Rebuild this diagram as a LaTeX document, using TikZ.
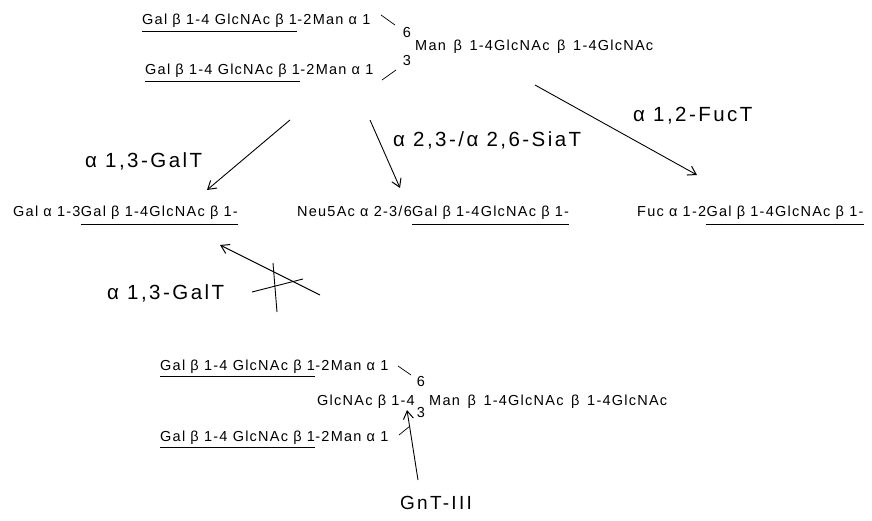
\documentclass[tikz,border=0pt]{standalone}
\usepackage{fontspec}
\setmainfont{Liberation Sans}
\newfontfamily\sugfont[LetterSpace=8.5]{Liberation Sans}
\newfontfamily\enzfont[LetterSpace=12]{Liberation Sans}
\usetikzlibrary{arrows.meta}
\begin{document}
\begin{tikzpicture}[x=1pt,y=-1pt,
  sug/.style={font=\sugfont\fontsize{14.5}{16}\selectfont, inner sep=0pt, anchor=base west},
  sugr/.style={font=\sugfont\fontsize{14.5}{16}\selectfont, inner sep=0pt, anchor=base east},
  num/.style={font=\sugfont\fontsize{14.5}{16}\selectfont, inner sep=0pt},
  enz/.style={font=\enzfont\fontsize{20.5}{22}\selectfont, inner sep=0pt, anchor=base west},
  ul/.style={line width=0.9pt},
  bond/.style={line width=0.7pt},
  arr/.style={line width=0.9pt, -{Straight Barb[length=8pt,width=10pt,line width=1pt]}},
  crossln/.style={line width=0.9pt}]
\useasboundingbox[fill=white] (0,0) rectangle (872,521);

% ---------- top structure ----------
\node[sug] (T1a) at (142,25) {Gal β 1-4 GlcNAc β 1};
\node[sug] (T1b) at (T1a.base east) {-2Man α 1};
\draw[ul] ([yshift=-6pt]T1a.base west) -- ([yshift=-6pt]T1a.base east);
\node[num] (t6) at (407,33) {6};
\node[sug] (TM) at (415,51) {Man~\,β~\,1-4GlcNAc~\,β~\,1-4GlcNAc};
\node[num] (t3) at (407,61) {3};
\node[sug] (T2a) at (145,75) {Gal β 1-4 GlcNAc β 1};
\node[sug] (T2b) at (T2a.base east) {-2Man α 1};
\draw[ul] ([yshift=-6pt]T2a.base west) -- ([yshift=-6pt]T2a.base east);
\coordinate (tb1) at (381,15); \coordinate (tb2) at (395,25);
\draw[bond] (tb1) -- (tb2);
\coordinate (tb3) at (382,80); \coordinate (tb4) at (396,70);
\draw[bond] (tb3) -- (tb4);

% ---------- products row ----------
\node[sug] (R1a) at (13,217) {Gal α 1-3};
\node[sug] (R1b) at (R1a.base east) {Gal β 1-4GlcNAc β 1-};
\draw[ul] ([yshift=-7pt]R1b.base west) -- ([yshift=-7pt]R1b.base east);
\node[sug] (R2a) at (297,217) {Neu5Ac α 2-3/6};
\node[sug] (R2b) at (R2a.base east) {Gal β 1-4GlcNAc β 1-};
\draw[ul] ([yshift=-7pt]R2b.base west) -- ([yshift=-7pt]R2b.base east);
\node[sug] (R3a) at (637,217) {Fuc α 1-2};
\node[sug] (R3b) at (R3a.base east) {Gal β 1-4GlcNAc β 1-};
\draw[ul] ([yshift=-7pt]R3b.base west) -- ([yshift=-7pt]R3b.base east);

% ---------- enzyme arrows ----------
\coordinate (a1s) at (290,120); \coordinate (a1e) at (207,190);
\draw[arr] (a1s) -- (a1e);
\node[enz] (L1) at (85,168) {α 1,3-GalT};
\coordinate (a2s) at (370,120); \coordinate (a2e) at (400,188);
\draw[arr] (a2s) -- (a2e);
\node[enz] (L2) at (393,147) {α 2,3-/α 2,6-SiaT};
\coordinate (a3s) at (535,85); \coordinate (a3e) at (697,175);
\draw[arr] (a3s) -- (a3e);
\node[enz] (L3) at (633,122) {α 1,2-FucT};
\coordinate (a4s) at (320,295); \coordinate (a4e) at (220,245);
\draw[arr] (a4s) -- (a4e);
\node[enz] (L4) at (107,299) {α 1,3-GalT};
\coordinate (c1) at (273,263); \coordinate (c2) at (277,312);
\coordinate (c3) at (252,292); \coordinate (c4) at (303,279);
\draw[crossln] (c1) -- (c2);
\draw[crossln] (c3) -- (c4);

% ---------- bottom structure ----------
\node[sug] (B1a) at (160,370) {Gal β 1-4 GlcNAc β 1};
\node[sug] (B1b) at (B1a.base east) {-2Man α 1};
\draw[ul] ([yshift=-6pt]B1a.base west) -- ([yshift=-6pt]B1a.base east);
\node[num] (b6) at (421,382) {6};
\node[sugr] (BG) at (415,405) {GlcNAc β 1-4};
\node[sug] (BM) at (429,405) {Man~\,β~\,1-4GlcNAc~\,β~\,1-4GlcNAc};
\node[num] (b3) at (421,413) {3};
\node[sug] (B2a) at (160,441) {Gal β 1-4 GlcNAc β 1};
\node[sug] (B2b) at (B2a.base east) {-2Man α 1};
\draw[ul] ([yshift=-6pt]B2a.base west) -- ([yshift=-6pt]B2a.base east);
\coordinate (bb1) at (398,366); \coordinate (bb2) at (411,375);
\draw[bond] (bb1) -- (bb2);
\coordinate (bb3) at (399,435); \coordinate (bb4) at (410,426);
\draw[bond] (bb3) -- (bb4);
\node[font=\enzfont\fontsize{19}{21}\selectfont, inner sep=0pt] (G) at (436,503) {GnT-III};
\coordinate (g1) at (418,480); \coordinate (g2) at (407,410);
\draw[arr] (g1) -- (g2);
\end{tikzpicture}
\end{document}
